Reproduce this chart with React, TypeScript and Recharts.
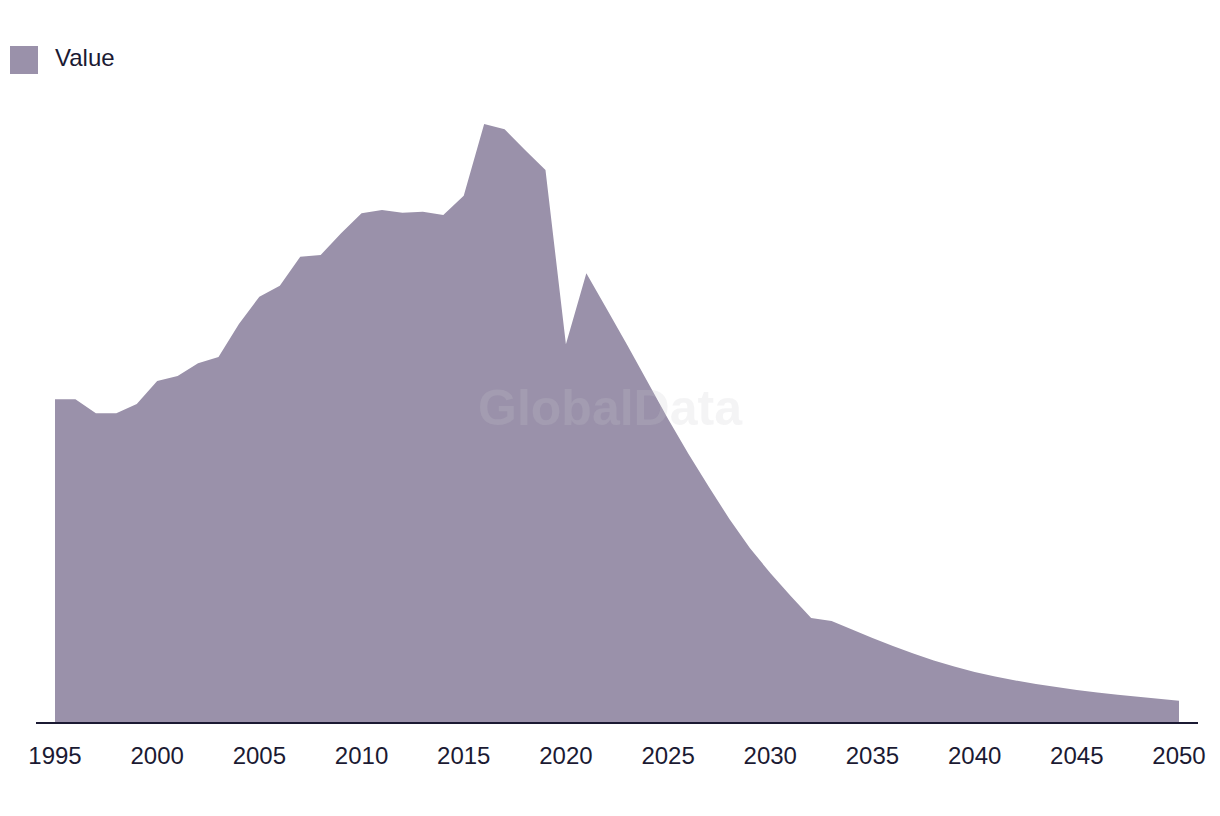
import React from "react";
import { AreaChart, Area, XAxis, YAxis } from "recharts";

const years: number[] = [
  1995, 1996, 1997, 1998, 1999, 2000, 2001, 2002, 2003, 2004, 2005, 2006, 2007, 2008,
  2009, 2010, 2011, 2012, 2013, 2014, 2015, 2016, 2017, 2018, 2019, 2020, 2021, 2022,
  2023, 2024, 2025, 2026, 2027, 2028, 2029, 2030, 2031, 2032, 2033, 2034, 2035, 2036,
  2037, 2038, 2039, 2040, 2041, 2042, 2043, 2044, 2045, 2046, 2047, 2048, 2049, 2050,
];

const values: number[] = [
  323.7, 323.7, 309.7, 309.7, 319, 342, 347, 359.7, 366, 399, 426.3, 437.3, 466.3, 468,
  489.7, 509.7, 513, 510.3, 511.3, 508, 527.3, 599, 593.7, 573, 553, 378.7, 449.7, 414,
  378, 341, 304, 269, 236, 204, 175, 150, 127, 105, 102, 93.5, 85, 77,
  69.5, 62.5, 56.5, 51, 46.5, 42.5, 39, 36, 33, 30.5, 28.2, 26.2, 24.2, 22.3,
];

const tickYears: number[] = [1995, 2000, 2005, 2010, 2015, 2020, 2025, 2030, 2035, 2040, 2045, 2050];

const seriesName = "Value";

const data = years.map((y, i) => ({ year: y, value: values[i] }));

const FILL = "#9a91aa";
const INK = "#1b1a33";
const FONT = "'Liberation Sans', Arial, sans-serif";

const Tick = (props: any) => {
  const { x, y, payload } = props;
  return (
    <text
      x={x}
      y={y}
      dy={32}
      textAnchor="middle"
      dominantBaseline="central"
      fontSize={24}
      fontFamily={FONT}
      fill={INK}
    >
      {payload.value}
    </text>
  );
};

export default function App() {
  return (
    <div style={{ position: "absolute", left: 0, top: 0, width: 1220, height: 816, background: "#fff" }}>
      <AreaChart
        width={1220}
        height={816}
        data={data}
        margin={{ top: 73, right: 22, bottom: 33, left: 36 }}
      >
        <XAxis
          dataKey="year"
          type="number"
          domain={[1995, 2050]}
          ticks={tickYears}
          padding={{ left: 19, right: 19 }}
          height={60}
          tickLine={false}
          tickSize={0}
          tickMargin={0}
          axisLine={{ stroke: INK, strokeWidth: 2 }}
          tick={<Tick />}
          interval={0}
        />
        <YAxis hide domain={[0, 650]} />
        <Area
          type="linear"
          dataKey="value"
          name={seriesName}
          stroke="none"
          fill={FILL}
          fillOpacity={1}
          isAnimationActive={false}
        />
      </AreaChart>
      <div
        style={{
          position: "absolute",
          left: 10,
          top: 46,
          display: "flex",
          alignItems: "center",
          fontFamily: FONT,
          fontSize: 24,
          color: INK,
        }}
      >
        <div style={{ width: 28, height: 28, background: FILL }} />
        <span style={{ marginLeft: 17, lineHeight: "28px", position: "relative", top: -2 }}>{seriesName}</span>
      </div>
      <div
        style={{
          position: "absolute",
          left: 0,
          width: 1220,
          top: 378,
          textAlign: "center",
          fontFamily: FONT,
          fontWeight: 700,
          fontSize: 50,
          lineHeight: "60px",
          color: "rgba(200,200,205,0.2)",
          pointerEvents: "none",
        }}
      >
        GlobalData
      </div>
    </div>
  );
}
